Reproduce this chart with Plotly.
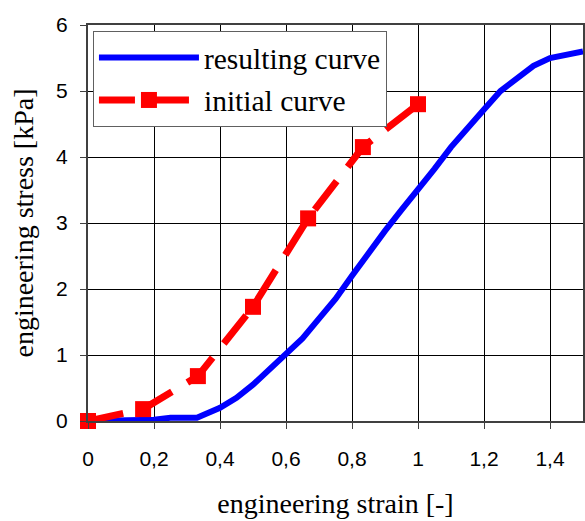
import plotly.graph_objects as go

# Data
init_x = [0, 0.167, 0.333, 0.5, 0.667, 0.833, 1.0]
init_y = [0, 0.18, 0.68, 1.73, 3.07, 4.15, 4.8]

res_x = [0, 0.1, 0.2, 0.25, 0.33, 0.4, 0.45, 0.5, 0.55, 0.6, 0.65, 0.7, 0.75, 0.8,
         0.85, 0.9, 0.95, 1.0, 1.05, 1.1, 1.15, 1.2, 1.25, 1.3, 1.35, 1.4, 1.45, 1.5]
res_y = [0, 0.01, 0.02, 0.05, 0.05, 0.2, 0.35, 0.55, 0.78, 1.0, 1.25, 1.55, 1.85, 2.2,
         2.55, 2.88, 3.2, 3.5, 3.82, 4.15, 4.45, 4.72, 5.0, 5.2, 5.38, 5.5, 5.56, 5.6]

x_ticks = [0, 0.2, 0.4, 0.6, 0.8, 1.0, 1.2, 1.4]
x_tick_labels = ["0", "0,2", "0,4", "0,6", "0,8", "1", "1,2", "1,4"]
y_ticks = [0, 1, 2, 3, 4, 5, 6]

fig = go.Figure()
fig.add_trace(go.Scatter(x=res_x, y=res_y, mode="lines", name="resulting curve",
                         legendgroup="a",
                         line=dict(color="#0000FF", width=6), cliponaxis=False))
fig.add_trace(go.Scatter(x=init_x, y=init_y, mode="lines+markers", name="initial curve",
                         legendgroup="b",
                         line=dict(color="#FF0000", width=7, dash="36px,18px"),
                         marker=dict(symbol="square", size=16, color="#FF0000"),
                         cliponaxis=False))

fig.update_layout(
    width=585, height=521,
    margin=dict(l=88, r=2, t=25, b=100),
    paper_bgcolor="white", plot_bgcolor="white",
    showlegend=True,
    legend=dict(x=0.01, y=0.985, xanchor="left", yanchor="top",
                bgcolor="white", bordercolor="#606060", borderwidth=1,
                font=dict(family="Liberation Serif", size=29.5, color="black"),
                itemwidth=100, traceorder="grouped", tracegroupgap=1),
    xaxis=dict(range=[0, 1.5], tickvals=x_ticks, ticktext=x_tick_labels,
               automargin=False,
               showgrid=True, gridcolor="black", gridwidth=1,
               showline=True, linecolor="#404040", linewidth=2, mirror=True,
               ticks="outside", ticklen=6, tickcolor="#404040",
               ticklabelstandoff=12,
               tickfont=dict(family="Liberation Sans", size=21, color="black"),
               title=dict(text="engineering strain [-]", standoff=24,
                          font=dict(family="Liberation Serif", size=28, color="black")),
               zeroline=False),
    yaxis=dict(range=[0, 6], tickvals=y_ticks,
               automargin=False,
               showgrid=True, gridcolor="black", gridwidth=1,
               showline=True, linecolor="#404040", linewidth=2, mirror=True,
               ticks="outside", ticklen=6, tickcolor="#404040",
               ticklabelstandoff=8,
               tickfont=dict(family="Liberation Sans", size=21, color="black"),
               title=dict(text="engineering stress [kPa]", standoff=14,
                          font=dict(family="Liberation Serif", size=28, color="black")),
               zeroline=False),
)

fig.write_html("out.html", config={"displayModeBar": False},
               post_script="document.body.style.margin='0px';document.body.style.overflow='hidden';")
